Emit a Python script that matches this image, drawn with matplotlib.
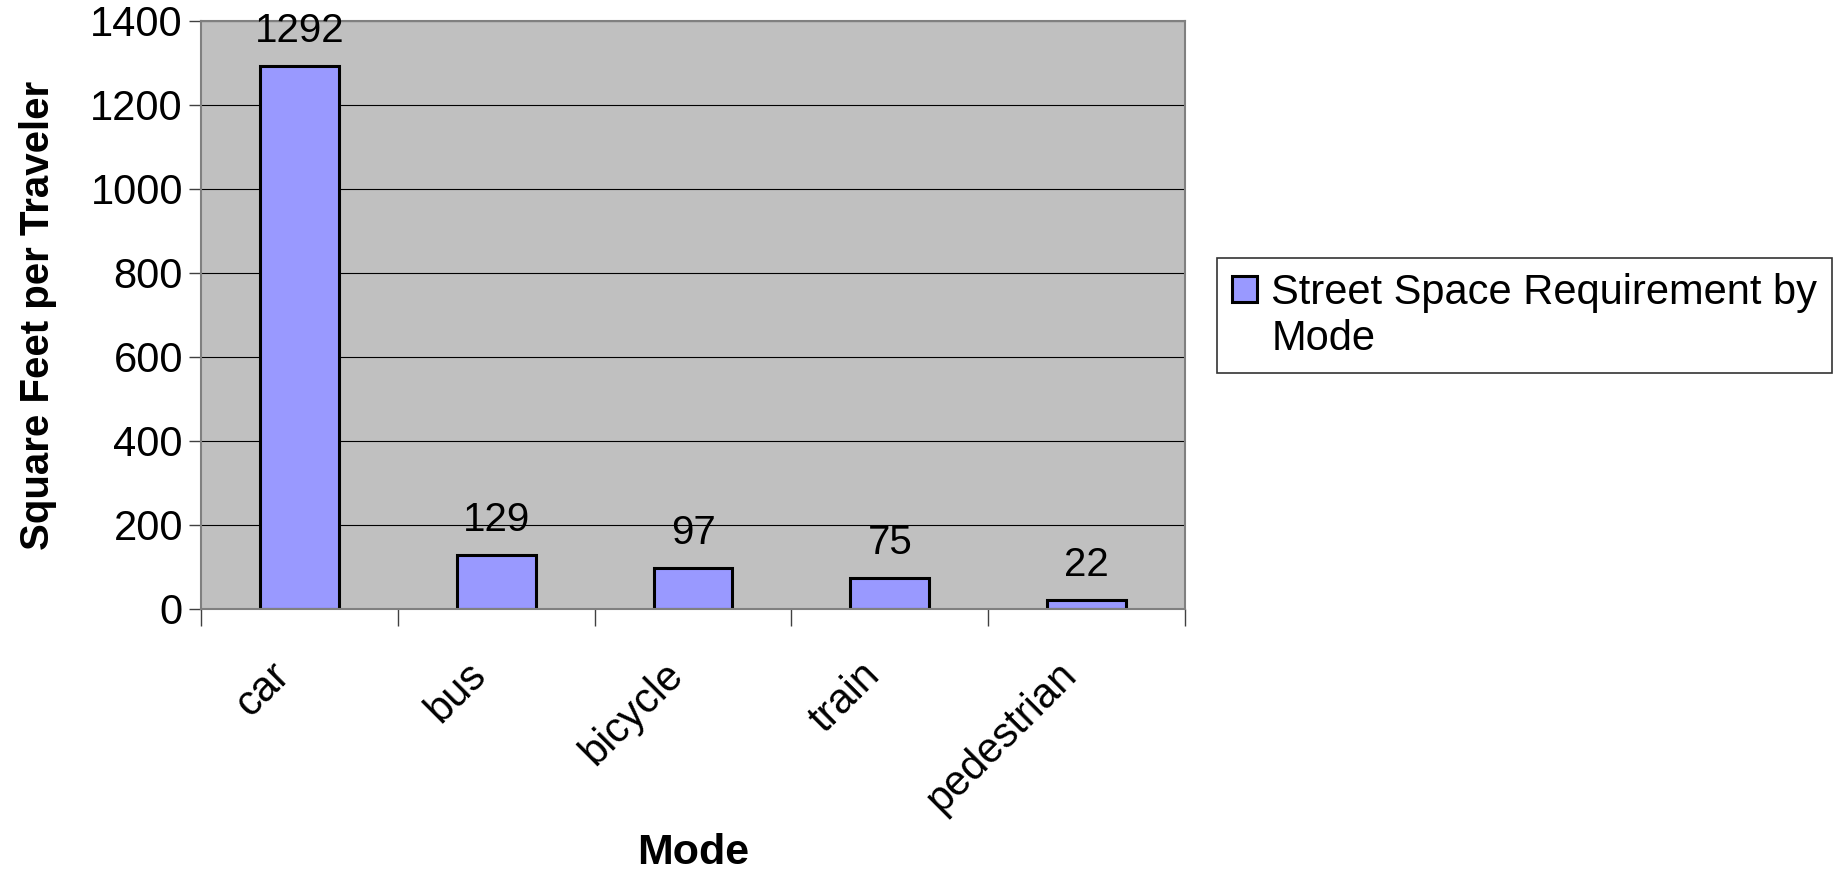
import matplotlib.pyplot as plt
import matplotlib.transforms as mtransforms
from matplotlib.patches import Patch
import numpy as np

plt.rcParams['font.family'] = ['Liberation Sans', 'DejaVu Sans']

modes = ['car', 'bus', 'bicycle', 'train', 'pedestrian']
space = [1292, 129, 97, 75, 22]
yticks = [0, 200, 400, 600, 800, 1000, 1200, 1400]

fig = plt.figure(figsize=(18.35, 8.73), dpi=100)
ax = fig.add_axes([201 / 1835, 1 - 609 / 873, 984 / 1835, 588 / 873])

x = np.arange(len(modes))
ax.set_facecolor('#C0C0C0')
ax.set_axisbelow(True)
ax.yaxis.grid(True, color='black', linewidth=0.8)
bars = ax.bar(x, space, width=0.4, color='#9999FF', edgecolor='black', linewidth=2.2)

for xi, v in zip(x, space):
    ax.text(xi, v + 38, str(v), ha='center', va='bottom', fontsize=29)

ax.set_xlim(-0.5, len(modes) - 0.5)
ax.set_ylim(0, 1400)
ax.set_yticks(yticks)
ax.set_yticklabels([str(t) for t in yticks], fontsize=30)
ax.tick_params(axis='y', length=9, width=1, color='#404040', pad=4)

# category ticks sit between bars, labels under bars
ax.set_xticks(np.arange(len(modes) + 1) - 0.5)
ax.set_xticklabels([])
ax.set_xticks(x, minor=True)
ax.set_xticklabels(modes, minor=True, rotation=45, ha='right', va='top',
                   rotation_mode='anchor', fontsize=30)
ax.tick_params(axis='x', which='major', length=12, width=1, color='#404040')
ax.tick_params(axis='x', which='minor', length=0, pad=33)
shift = mtransforms.ScaledTranslation(-30 / 100, 0, fig.dpi_scale_trans)
for lab in ax.get_xticklabels(minor=True):
    lab.set_transform(lab.get_transform() + shift)

for s in ax.spines.values():
    s.set_color('#808080')
    s.set_linewidth(1.5)

ax.set_xlabel('Mode', fontsize=31, fontweight='bold', va='center')
ax.xaxis.set_label_coords(0.5, (609 - 853) / 588)
ax.set_ylabel('Square Feet per Traveler', fontsize=29, fontweight='bold', labelpad=24)

# the legend label wraps onto a second line, handle stays on the first
blank = Patch(facecolor='none', edgecolor='none')
leg = ax.legend([bars, blank], ['Street Space Requirement by', 'Mode'],
                loc='upper left', bbox_to_anchor=(1016 / 984, 1 - (258 - 21) / 588),
                fontsize=30, frameon=True, fancybox=False, borderaxespad=0,
                handlelength=0.6, handleheight=0.6, handletextpad=0.35,
                borderpad=0.35, labelspacing=0.15)
leg.get_frame().set_edgecolor('black')
leg.get_frame().set_linewidth(1.2)

fig.savefig('out.png', dpi=100)
